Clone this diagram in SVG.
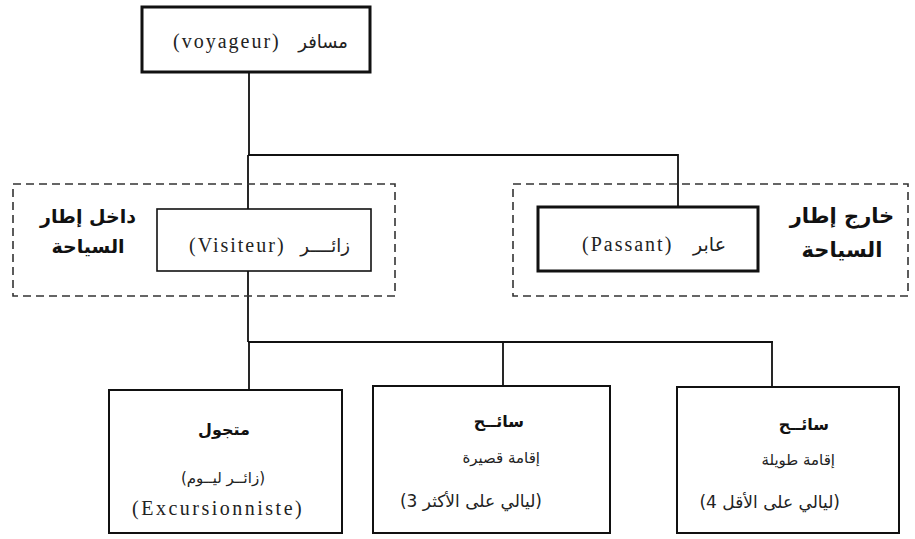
<svg xmlns="http://www.w3.org/2000/svg" width="915" height="539" viewBox="0 0 915 539">
<style>
.bg{fill:#ffffff}
.box{fill:#ffffff;stroke:#111}
.thick{stroke-width:3}
.thin{stroke-width:1.6}
.mid{stroke-width:2}
.dash{fill:none;stroke:#333;stroke-width:1.6;stroke-dasharray:8 5}
.conn{fill:none;stroke:#111;stroke-width:1.8}
.lat{font-family:'Liberation Serif','DejaVu Sans',serif;font-size:20px;fill:#222;letter-spacing:2px}
.ar{font-family:'DejaVu Sans','Noto Sans',sans-serif;font-size:18px;fill:#222}
.arb{font-family:'DejaVu Sans','Noto Sans',sans-serif;font-size:16px;font-weight:bold;fill:#111}
.arh{font-family:'DejaVu Sans','Noto Sans',sans-serif;font-size:19px;font-weight:bold;fill:#111}
.mix{font-family:'DejaVu Sans','Noto Sans',sans-serif;font-size:17px;fill:#222}
.sm{font-size:15px}
</style>
<rect class="bg" x="0" y="0" width="915" height="539"/>
<g id="connectors">
<path class="conn" d="M249 72 V155 M248 155 H678 V207 M248 155 V209"/>
<path class="conn" d="M248 271 V342 M248 342 H773 M249 342 V390 M503 342 V386 M772 342 V387"/>
</g>
<g id="frame-inside">
<rect class="dash" x="13" y="184" width="382" height="112"/>
<text class="arh" x="88" y="223" text-anchor="middle">داخل إطار</text>
<text class="arh" x="88" y="253" text-anchor="middle">السياحة</text>
</g>
<g id="frame-outside">
<rect class="dash" x="513" y="184" width="395" height="112"/>
<text class="arh" x="842" y="223" text-anchor="middle" style="font-size:21px">خارج إطار</text>
<text class="arh" x="842" y="257" text-anchor="middle" style="font-size:21px">السياحة</text>
</g>
<g id="node-voyageur">
<rect class="box thick" x="142" y="7" width="228" height="65"/>
<text class="lat" x="173" y="48">(voyageur)</text>
<text class="ar" x="348" y="48" text-anchor="end">مسافر</text>
</g>
<g id="node-visiteur">
<rect class="box thin" x="157" y="209" width="214" height="62"/>
<text class="lat" x="189" y="252">(Visiteur)</text>
<text class="ar" x="350" y="252" text-anchor="end">زائــــر</text>
</g>
<g id="node-passant">
<rect class="box thick" x="538" y="207" width="220" height="64"/>
<text class="lat" x="582" y="251">(Passant)</text>
<text class="ar" x="726" y="251" text-anchor="end" style="font-size:19px">عابر</text>
</g>
<g id="node-excursionniste">
<rect class="box mid" x="109" y="390" width="233" height="143"/>
<text class="arb" x="224" y="435" text-anchor="middle">متجول</text>
<text class="mix sm" x="223" y="483" text-anchor="middle">(زائــر ليــوم)</text>
<text class="lat" x="132" y="515" style="letter-spacing:2.5px">(Excursionniste)</text>
</g>
<g id="node-court-sejour">
<rect class="box mid" x="373" y="386" width="237" height="147"/>
<text class="arb" x="524" y="427" text-anchor="end">سائــح</text>
<text class="ar sm" x="540" y="463" text-anchor="end">إقامة قصيرة</text>
<text class="mix" x="542" y="507" text-anchor="end">(3 ليالي على الأكثر)</text>
</g>
<g id="node-long-sejour">
<rect class="box mid" x="677" y="387" width="222" height="146"/>
<text class="arb" x="829" y="430" text-anchor="end">سائــح</text>
<text class="ar sm" x="835" y="465" text-anchor="end">إقامة طويلة</text>
<text class="mix" x="840" y="508" text-anchor="end">(4 ليالي على الأقل)</text>
</g>
</svg>
